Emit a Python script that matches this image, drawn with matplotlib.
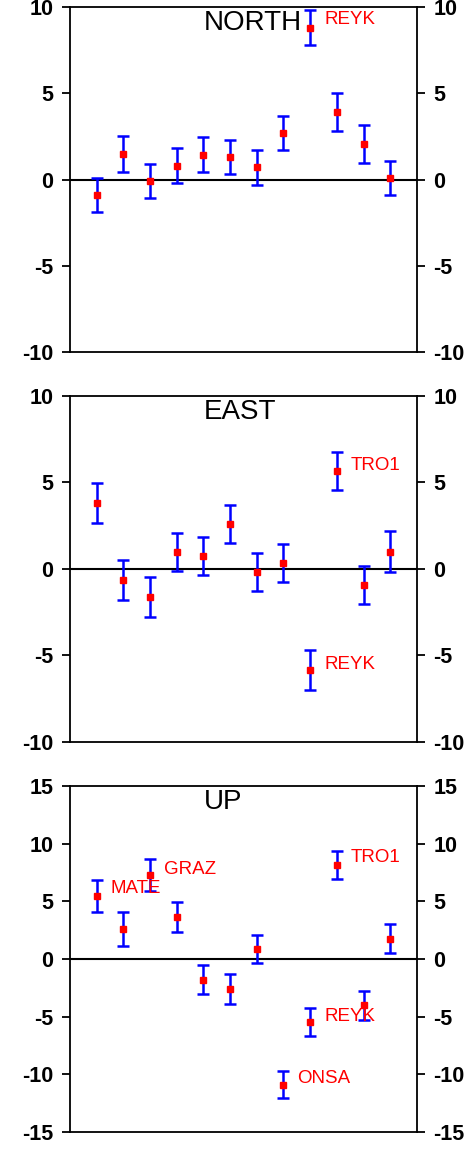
import matplotlib.pyplot as plt
import numpy as np

plt.rcParams['font.family'] = ['Liberation Sans', 'DejaVu Sans']
plt.rcParams['axes.unicode_minus'] = False

sites = np.arange(1, 13)

# displacement and sigma per component
north = [-0.9, 1.5, -0.1, 0.8, 1.45, 1.3, 0.7, 2.7, 8.8, 3.9, 2.05, 0.1]
north_err = [1.0, 1.05, 1.0, 1.0, 1.0, 1.0, 1.0, 1.0, 1.0, 1.1, 1.1, 1.0]
east = [3.8, -0.65, -1.6, 1.0, 0.75, 2.6, -0.2, 0.35, -5.85, 5.65, -0.95, 1.0]
east_err = [1.15, 1.15, 1.15, 1.1, 1.1, 1.1, 1.1, 1.1, 1.15, 1.1, 1.1, 1.2]
up = [5.45, 2.6, 7.3, 3.65, -1.8, -2.6, 0.85, -10.9, -5.45, 8.15, -4.0, 1.75]
up_err = [1.4, 1.45, 1.4, 1.3, 1.25, 1.3, 1.2, 1.15, 1.2, 1.2, 1.25, 1.25]

north_labels = [("REYK", 9.55, 9.25)]
east_labels = [("TRO1", 10.5, 6.0), ("REYK", 9.55, -5.5)]
up_labels = [("MATE", 1.5, 6.1), ("GRAZ", 3.52, 7.8), ("TRO1", 10.5, 8.8),
             ("REYK", 9.55, -4.95), ("ONSA", 8.5, -10.4)]

panels = [
    ("NORTH", north, north_err, north_labels, 10, [-10, -5, 0, 5, 10]),
    ("EAST", east, east_err, east_labels, 10, [-10, -5, 0, 5, 10]),
    ("UP", up, up_err, up_labels, 15, [-15, -10, -5, 0, 5, 10, 15]),
]

fig = plt.figure(figsize=(4.72, 11.5), dpi=100)
bottoms = [0.6939, 0.3548, 0.01565]
heights = [0.3, 0.3009, 0.3009]

for (name, vals, errs, labels, lim, ticks), b, h in zip(panels, bottoms, heights):
    ax = fig.add_axes([0.1483, b, 0.735, h])
    ax.axhline(0, color='black', lw=1.5, zorder=1)
    ax.errorbar(sites, vals, yerr=errs, fmt='none', ecolor='blue',
                elinewidth=1.8, capsize=4, capthick=1.8, zorder=2)
    ax.plot(sites, vals, 's', color='red', ms=4.5, zorder=3)
    for txt, x, y in labels:
        ax.text(x, y, txt, color='red', fontsize=13.5, va='center', ha='left')
    ax.text(5.02, 0.99, name, transform=ax.get_xaxis_transform(),
            fontsize=20, va='top', ha='left')
    ax.set_xlim(0, 13)
    ax.set_ylim(-lim, lim)
    ax.set_xticks([])
    ax.set_yticks(ticks)
    ax.tick_params(axis='y', which='both', direction='out', length=6, width=1.3,
                   labelsize=15.5, pad=6, left=True, right=True,
                   labelleft=True, labelright=True)
    for lab in ax.get_yticklabels():
        lab.set_fontweight('bold')
    for sp in ax.spines.values():
        sp.set_linewidth(1.3)

fig.savefig('out.png', dpi=100)
